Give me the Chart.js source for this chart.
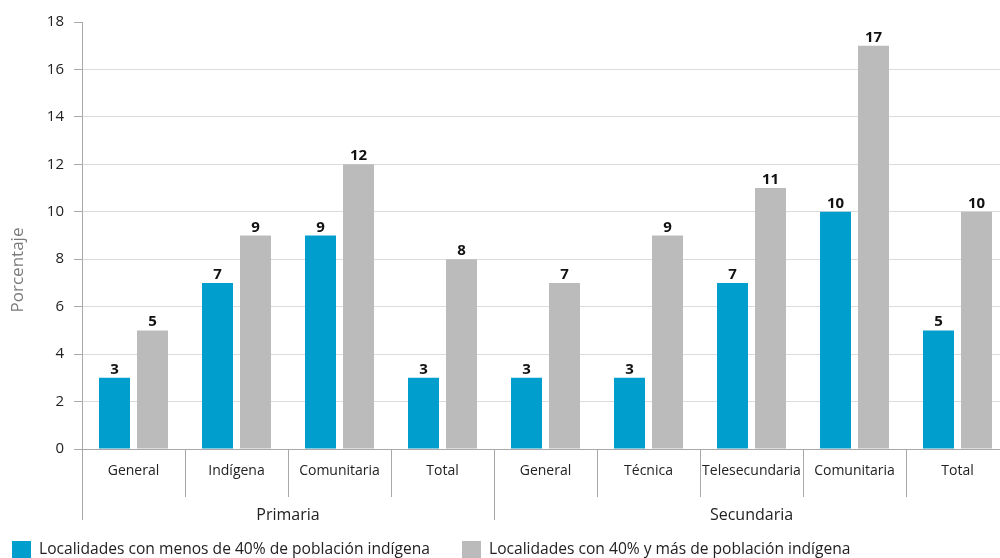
<!DOCTYPE html>
<html>
<head>
<meta charset="utf-8">
<script src="https://cdn.jsdelivr.net/npm/chart.js@4.4.1/dist/chart.umd.min.js"></script>
<style>
  html, body { margin: 0; padding: 0; background: #fff; width: 1000px; height: 558px; overflow: hidden; }
  #wrap { position: absolute; left: 0; top: 0; width: 1010px; height: 558px; }
</style>
</head>
<body>
<div id="wrap"><canvas id="c"></canvas></div>
<script>
// Categories by school level and modality
const categories = ['General', 'Indígena', 'Comunitaria', 'Total', 'General', 'Técnica', 'Telesecundaria', 'Comunitaria', 'Total'];
const groupNames = ['Primaria', 'Secundaria'];
const groupSizes = [4, 5];

// Percentages per locality type
const menos40 = [3, 7, 9, 3, 3, 3, 7, 10, 5];
const mas40 = [5, 9, 12, 8, 7, 9, 11, 17, 10];
const seriesNames = [
  'Localidades con menos de 40% de población indígena',
  'Localidades con 40% y más de población indígena'
];

// Value axis
const yMin = 0, yMax = 18, yStep = 2;
const yTitle = 'Porcentaje';

const FONT = '"Open Sans", "Noto Sans", sans-serif';
const BLUE = '#009ecd';
const GREY = '#bbbbbb';
const AXIS = '#a8a8a8';

const decorations = {
  id: 'decorations',
  afterDatasetsDraw(chart) {
    const ctx = chart.ctx;
    const area = chart.chartArea;
    const xs = chart.scales.x;

    // value labels above bars
    ctx.save();
    ctx.font = 'bold 15px ' + FONT;
    ctx.fillStyle = '#111';
    ctx.textAlign = 'center';
    ctx.textBaseline = 'alphabetic';
    chart.data.datasets.forEach((ds, di) => {
      chart.getDatasetMeta(di).data.forEach((bar, i) => {
        ctx.fillText(String(ds.data[i]), bar.x, bar.y - 4);
      });
    });
    ctx.restore();

    // y-axis title
    ctx.save();
    ctx.translate(18, 270);
    ctx.rotate(-Math.PI / 2);
    ctx.font = '17px ' + FONT;
    ctx.fillStyle = '#7a7a7a';
    ctx.textAlign = 'center';
    ctx.textBaseline = 'middle';
    ctx.fillText(yTitle, 0, 0);
    ctx.restore();

    // group dividers and group labels
    const slot = (xs.right - xs.left) / categories.length;
    ctx.save();
    ctx.strokeStyle = AXIS;
    ctx.lineWidth = 1;
    ctx.font = '16px ' + FONT;
    ctx.fillStyle = '#222';
    ctx.textAlign = 'center';
    ctx.textBaseline = 'middle';
    let start = 0;
    groupSizes.forEach((n, g) => {
      const x0 = Math.round(xs.left + start * slot) + 0.5;
      ctx.beginPath();
      ctx.moveTo(x0, area.bottom);
      ctx.lineTo(x0, area.bottom + 71);
      ctx.stroke();
      const cx = xs.left + (start + n / 2) * slot;
      ctx.fillText(groupNames[g], cx, area.bottom + 66);
      start += n;
    });
    ctx.restore();

    // legend
    ctx.save();
    ctx.font = '15.6px ' + FONT;
    ctx.textBaseline = 'middle';
    ctx.textAlign = 'left';
    const legendX = [12, 462];
    chart.data.datasets.forEach((ds, di) => {
      ctx.fillStyle = ds.backgroundColor;
      ctx.fillRect(legendX[di], 541, 19, 19);
      ctx.fillStyle = '#222';
      ctx.fillText(ds.label, legendX[di] + 27, 550);
    });
    ctx.restore();
  }
};

new Chart(document.getElementById('c'), {
  type: 'bar',
  data: {
    labels: categories,
    datasets: [
      { label: seriesNames[0], data: menos40, backgroundColor: BLUE },
      { label: seriesNames[1], data: mas40, backgroundColor: GREY }
    ]
  },
  options: {
    responsive: true,
    maintainAspectRatio: false,
    animation: false,
    events: [],
    layout: { padding: { top: 22, left: 0, right: 1, bottom: 0 } },
    datasets: { bar: { categoryPercentage: 0.738, barPercentage: 0.816 } },
    plugins: { legend: { display: false }, tooltip: { enabled: false } },
    scales: {
      x: {
        offset: true,
        grid: { offset: true, drawOnChartArea: false, drawTicks: true, tickLength: 48, color: AXIS },
        border: { display: true, color: AXIS },
        ticks: { padding: -34, color: '#222', font: { family: FONT, size: 14 }, maxRotation: 0, autoSkip: false },
        afterFit(scale) { scale.height = 109; }
      },
      y: {
        min: yMin, max: yMax,
        ticks: { stepSize: yStep, padding: 10, color: '#222', font: { family: FONT, size: 15 } },
        grid: {
          tickLength: 8,
          tickColor: AXIS,
          color: (c) => c.tick && c.tick.value === yMax ? 'rgba(0,0,0,0)' : (c.tick && c.tick.value === 0 ? AXIS : '#dcdcdc')
        },
        border: { display: true, color: AXIS },
        title: { display: false },
        afterFit(scale) { scale.width = 82; }
      }
    }
  },
  plugins: [decorations]
});
</script>
</body>
</html>
